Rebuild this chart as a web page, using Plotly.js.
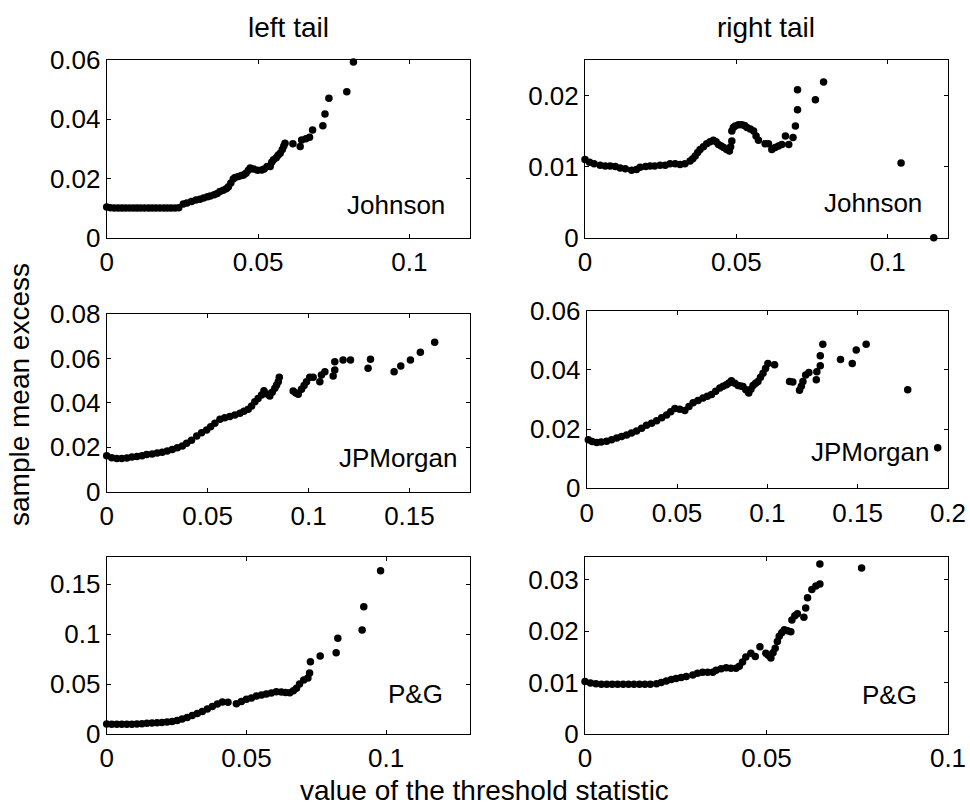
<!DOCTYPE html>
<html>
<head>
<meta charset="utf-8">
<script src="https://cdn.plot.ly/plotly-3.0.1.min.js"></script>
<style>html,body{margin:0;padding:0;background:#fff;}#chart{width:970px;height:810px;}</style>
</head>
<body>
<div id="chart"></div>
<script>
// ---- data ----
var johnsonLeftX = [0,0.0012,0.0025,0.0038,0.005,0.0062,0.0075,0.0088,0.01,0.0112,0.0125,0.0138,0.015,0.0162,0.0175,0.0188,0.02,0.0212,0.0225,0.0238,
  0.0253,0.0265,0.028,0.0295,0.0308,0.032,0.0333,0.0342,0.0355,0.0365,0.0374,0.0385,0.0395,0.0402,0.041,0.0418,0.0424,0.0435,0.0445,0.0452,0.046,0.0468,0.0474,0.0485,0.0498,0.0512,0.052,0.053,0.054,0.0545,0.0551,0.056,0.0566,0.0573,0.058,0.0585,0.0589,0.0615,0.0639,0.0644,0.0658,0.067,0.068,0.0714,0.0721,0.0734,0.0793,0.0815];
var johnsonLeftY = [0.0104,0.0101,0.0100,0.0100,0.0100,0.0100,0.0100,0.0100,0.0100,0.0100,0.0100,0.0100,0.0100,0.0100,0.0100,0.0100,0.0100,0.0100,0.0100,0.0101,
  0.0114,0.0117,0.0122,0.0127,0.0130,0.0134,0.0138,0.0141,0.0145,0.0149,0.0156,0.0160,0.0165,0.0172,0.0185,0.0198,0.0203,0.0207,0.0210,0.0212,0.0218,0.0228,0.0235,0.0232,0.0228,0.0229,0.0232,0.0240,0.0240,0.0255,0.0263,0.0270,0.0278,0.0285,0.0298,0.0310,0.0319,0.0317,0.0308,0.0330,0.0334,0.0339,0.0364,0.0378,0.0418,0.0471,0.0493,0.0593];

var johnsonRightX = [0,0.0015,0.003,0.005,0.0067,0.0083,0.01,0.0116,0.0133,0.0154,0.017,0.0182,0.02,0.0215,0.023,0.0248,0.0265,0.0281,0.0298,0.0314,0.033,0.0347,0.0356,0.0364,0.0372,0.038,0.0391,0.0402,0.0413,0.0424,0.0433,0.0441,0.045,0.0458,0.0468,0.0477,0.0481,0.0485,0.0485,0.049,0.0496,0.0507,0.0518,0.0527,0.0535,0.0546,0.0557,0.0565,0.0573,0.0595,0.0606,0.0617,0.0628,0.0639,0.065,0.0662,0.0673,0.0687,0.0695,0.0702,0.0702,0.0761,0.0788,0.1044,0.1152];
var johnsonRightY = [0.0110,0.0106,0.0104,0.0102,0.0101,0.0101,0.0100,0.0098,0.0097,0.0095,0.0096,0.0099,0.0100,0.0101,0.0101,0.0102,0.0102,0.0104,0.0104,0.0103,0.0104,0.0108,0.0111,0.0115,0.0120,0.0124,0.0128,0.0132,0.0135,0.0137,0.0135,0.0131,0.0129,0.0127,0.0124,0.0122,0.0128,0.0136,0.0150,0.0155,0.0157,0.0159,0.0159,0.0158,0.0155,0.0153,0.0150,0.0143,0.0137,0.0132,0.0132,0.0124,0.0127,0.0129,0.0131,0.0143,0.0131,0.0141,0.0157,0.0180,0.0208,0.0194,0.0219,0.0105,0];

var jpmLeftX = [0,0.0025,0.005,0.0075,0.01,0.0125,0.015,0.0175,0.0198,0.0225,0.025,0.0275,0.03,0.0325,0.035,0.0375,0.0396,0.042,0.0446,0.047,0.0495,0.0515,0.0536,0.0561,0.0585,0.061,0.0635,0.066,0.068,0.0701,0.0718,0.0734,0.075,0.0767,0.0779,0.0795,0.0808,0.082,0.0833,0.0842,0.085,0.0855,0.0924,0.0937,0.0949,0.0965,0.0978,0.099,0.1006,0.1023,0.1056,0.1064,0.1081,0.1122,0.113,0.113,0.1171,0.1208,0.1295,0.1307,0.1424,0.1457,0.1505,0.1554,0.1625];
var jpmLeftY = [0.0162,0.0153,0.0150,0.0150,0.0152,0.0156,0.0158,0.0162,0.0167,0.0170,0.0174,0.0178,0.0183,0.0190,0.0198,0.0206,0.0218,0.0232,0.0251,0.0265,0.0278,0.0292,0.0308,0.0326,0.0333,0.0338,0.0345,0.0353,0.0362,0.0371,0.0386,0.0405,0.0420,0.0435,0.0455,0.0440,0.0431,0.0448,0.0466,0.0480,0.0495,0.0515,0.0453,0.0444,0.0439,0.0461,0.0478,0.0495,0.0515,0.0515,0.0495,0.0525,0.0540,0.0521,0.0548,0.0585,0.0593,0.0593,0.0556,0.0596,0.0540,0.0566,0.0593,0.0628,0.0673];

var jpmRightX = [0.0009,0.003,0.0055,0.008,0.011,0.0138,0.0166,0.0193,0.0221,0.0248,0.0276,0.0304,0.0331,0.0359,0.0387,0.0415,0.0442,0.0465,0.0488,0.0515,0.0543,0.0566,0.0589,0.0616,0.0644,0.0668,0.0691,0.0714,0.0737,0.0755,0.0773,0.0787,0.0801,0.082,0.0838,0.0852,0.0865,0.0881,0.0897,0.0909,0.0921,0.0935,0.0948,0.0962,0.0976,0.099,0.1003,0.104,0.1123,0.1141,0.1178,0.1188,0.1197,0.1212,0.123,0.1271,0.1274,0.1293,0.1293,0.1307,0.1405,0.147,0.1492,0.1547,0.1777,0.1943];
var jpmRightY = [0.0164,0.0158,0.0155,0.0156,0.0159,0.0164,0.0170,0.0175,0.0180,0.0187,0.0194,0.0203,0.0213,0.0220,0.0228,0.0238,0.0248,0.0259,0.0270,0.0267,0.0263,0.0276,0.0289,0.0297,0.0305,0.0311,0.0317,0.0328,0.0339,0.0345,0.0350,0.0356,0.0363,0.0355,0.0347,0.0346,0.0344,0.0333,0.0322,0.0335,0.0347,0.0355,0.0361,0.0375,0.0389,0.0405,0.0422,0.0417,0.0361,0.0359,0.0331,0.0345,0.0361,0.0383,0.0391,0.0367,0.0394,0.0414,0.0448,0.0487,0.0435,0.0422,0.0467,0.0487,0.0333,0.0137];

var pgLeftX = [0,0.0018,0.0036,0.0054,0.0072,0.009,0.0108,0.0126,0.0144,0.0162,0.018,0.0198,0.0216,0.0234,0.0252,0.027,0.0288,0.0306,0.0324,0.0342,0.036,0.0378,0.0396,0.0414,0.0434,0.0464,0.0482,0.05,0.0518,0.0536,0.0554,0.0571,0.0589,0.0607,0.0625,0.064,0.0655,0.0668,0.0679,0.069,0.0705,0.072,0.0726,0.0729,0.0764,0.0821,0.0827,0.0914,0.092,0.098];
var pgLeftY = [0.0100,0.0097,0.0097,0.0097,0.0097,0.0098,0.0100,0.0102,0.0107,0.0110,0.0112,0.0115,0.0120,0.0125,0.0135,0.0150,0.0165,0.0185,0.0205,0.0225,0.0250,0.0275,0.0300,0.0320,0.0318,0.0302,0.0325,0.0347,0.0360,0.0380,0.0390,0.0400,0.0410,0.0423,0.0420,0.0415,0.0413,0.0432,0.0457,0.0500,0.0540,0.0560,0.0610,0.0723,0.0780,0.0813,0.0957,0.1040,0.1273,0.1633];

var pgRightX = [0,0.0015,0.003,0.0045,0.006,0.0075,0.009,0.0105,0.012,0.0135,0.015,0.0165,0.018,0.0197,0.021,0.0224,0.0238,0.0251,0.0265,0.0279,0.0297,0.031,0.0324,0.0338,0.0352,0.0361,0.0375,0.0389,0.0402,0.0416,0.0425,0.0434,0.0443,0.0457,0.0469,0.0482,0.0498,0.0505,0.0512,0.0518,0.0524,0.053,0.0535,0.0542,0.0549,0.0558,0.0567,0.057,0.0578,0.0585,0.0603,0.0608,0.0613,0.0625,0.0636,0.0647,0.0647,0.0762];
var pgRightY = [0.0102,0.0099,0.0098,0.0097,0.0097,0.0097,0.0097,0.0097,0.0097,0.0097,0.0097,0.0097,0.0097,0.0098,0.0100,0.0103,0.0106,0.0108,0.0110,0.0112,0.0115,0.0118,0.0120,0.0120,0.0120,0.0124,0.0127,0.0129,0.0128,0.0128,0.0132,0.0140,0.0150,0.0157,0.0151,0.0170,0.0157,0.0153,0.0148,0.0158,0.0167,0.0180,0.0190,0.0197,0.0203,0.0201,0.0199,0.0222,0.0230,0.0234,0.0227,0.0245,0.0265,0.0281,0.0288,0.0292,0.0331,0.0323];

var panelLabels = ["Johnson","Johnson","JPMorgan","JPMorgan","P&G","P&G"];
var columnTitles = ["left tail","right tail"];
var yTitle = "sample mean excess";
var xTitle = "value of the threshold statistic";

var xTicks = [[0,0.05,0.1],[0,0.05,0.1],[0,0.05,0.1,0.15],[0,0.05,0.1,0.15,0.2],[0,0.05,0.1],[0,0.05,0.1]];
var xTickText = [["0","0.05","0.1"],["0","0.05","0.1"],["0","0.05","0.1","0.15"],["0","0.05","0.1","0.15","0.2"],["0","0.05","0.1"],["0","0.05","0.1"]];
var yTicks = [[0,0.02,0.04,0.06],[0,0.01,0.02],[0,0.02,0.04,0.06,0.08],[0,0.02,0.04,0.06],[0,0.05,0.1,0.15],[0,0.01,0.02,0.03]];
var yTickText = [["0","0.02","0.04","0.06"],["0","0.01","0.02"],["0","0.02","0.04","0.06","0.08"],["0","0.02","0.04","0.06"],["0","0.05","0.1","0.15"],["0","0.01","0.02","0.03"]];
var xRanges = [[0,0.12],[0,0.12],[0,0.18],[0,0.2],[0,0.13],[0,0.1]];
var yRanges = [[0,0.06],[0,0.025],[0,0.08],[0,0.06],[0,0.1773],[0,0.0345]];

// ---- layout geometry (pixels) ----
var W = 970, H = 810;
var FONT = "Liberation Sans, Arial, Helvetica, sans-serif";
var TICK_SIZE = 26, LABEL_SIZE = 28;
var boxes = [ // [left, right, top, bottom]
  [106.7, 470, 60, 237.7],
  [585, 948.3, 60, 237.7],
  [106.7, 470, 314, 491.7],
  [586.7, 948, 310.7, 488.3],
  [106.7, 470, 556.7, 734],
  [585, 948, 556.7, 734]
];
var labelPos = [[345,205],[821.7,202.7],[336.7,458.3],[809.3,451.7],[386,694],[860,695]];

var seriesX = [johnsonLeftX, johnsonRightX, jpmLeftX, jpmRightX, pgLeftX, pgRightX];
var seriesY = [johnsonLeftY, johnsonRightY, jpmLeftY, jpmRightY, pgLeftY, pgRightY];

var data = [];
var layout = {
  width: W, height: H,
  margin: {l:0, r:0, t:0, b:0},
  paper_bgcolor: "#fff", plot_bgcolor: "#fff",
  showlegend: false,
  font: {family: FONT, size: TICK_SIZE, color: "#000"},
  annotations: []
};

for (var i = 0; i < 6; i++) {
  var n = i + 1;
  var xa = "x" + (n === 1 ? "" : n), ya = "y" + (n === 1 ? "" : n);
  data.push({
    type: "scatter", mode: "markers",
    x: seriesX[i], y: seriesY[i],
    xaxis: xa, yaxis: ya,
    cliponaxis: false,
    marker: {color: "#000", size: 7.5, line: {width: 0}},
    hoverinfo: "skip"
  });
  var b = boxes[i];
  var common = {
    showline: true, linecolor: "#000", linewidth: 1, mirror: "ticks",
    ticks: "inside", ticklen: 4, tickwidth: 1, tickcolor: "#000",
    showgrid: false, zeroline: false, fixedrange: true,
    tickfont: {family: FONT, size: TICK_SIZE, color: "#000"},
    tickmode: "array"
  };
  layout["xaxis" + (n === 1 ? "" : n)] = Object.assign({}, common, {
    domain: [b[0]/W, b[1]/W], range: xRanges[i], anchor: ya,
    tickvals: xTicks[i], ticktext: xTickText[i], ticklabelstandoff: 1
  });
  layout["yaxis" + (n === 1 ? "" : n)] = Object.assign({}, common, {
    domain: [1 - b[3]/H, 1 - b[2]/H], range: yRanges[i], anchor: xa,
    tickvals: yTicks[i], ticktext: yTickText[i]
  });
  layout.annotations.push({
    text: panelLabels[i], xref: "paper", yref: "paper",
    x: labelPos[i][0]/W, y: 1 - labelPos[i][1]/H,
    xanchor: "left", yanchor: "middle", showarrow: false,
    font: {family: FONT, size: TICK_SIZE, color: "#000"}
  });
}

layout.annotations.push({text: columnTitles[0], xref:"paper", yref:"paper", x: 288/W, y: 1-28/H, xanchor:"center", yanchor:"middle", showarrow:false, font:{family:FONT,size:LABEL_SIZE,color:"#000"}});
layout.annotations.push({text: columnTitles[1], xref:"paper", yref:"paper", x: 766/W, y: 1-28/H, xanchor:"center", yanchor:"middle", showarrow:false, font:{family:FONT,size:LABEL_SIZE,color:"#000"}});
layout.annotations.push({text: yTitle, xref:"paper", yref:"paper", x: 20/W, y: 1-395/H, xanchor:"center", yanchor:"middle", textangle:-90, showarrow:false, font:{family:FONT,size:LABEL_SIZE,color:"#000"}});
layout.annotations.push({text: xTitle, xref:"paper", yref:"paper", x: 484/W, y: 1-790/H, xanchor:"center", yanchor:"middle", showarrow:false, font:{family:FONT,size:LABEL_SIZE,color:"#000"}});

Plotly.newPlot("chart", data, layout, {displayModeBar: false, staticPlot: true});
</script>
</body>
</html>
